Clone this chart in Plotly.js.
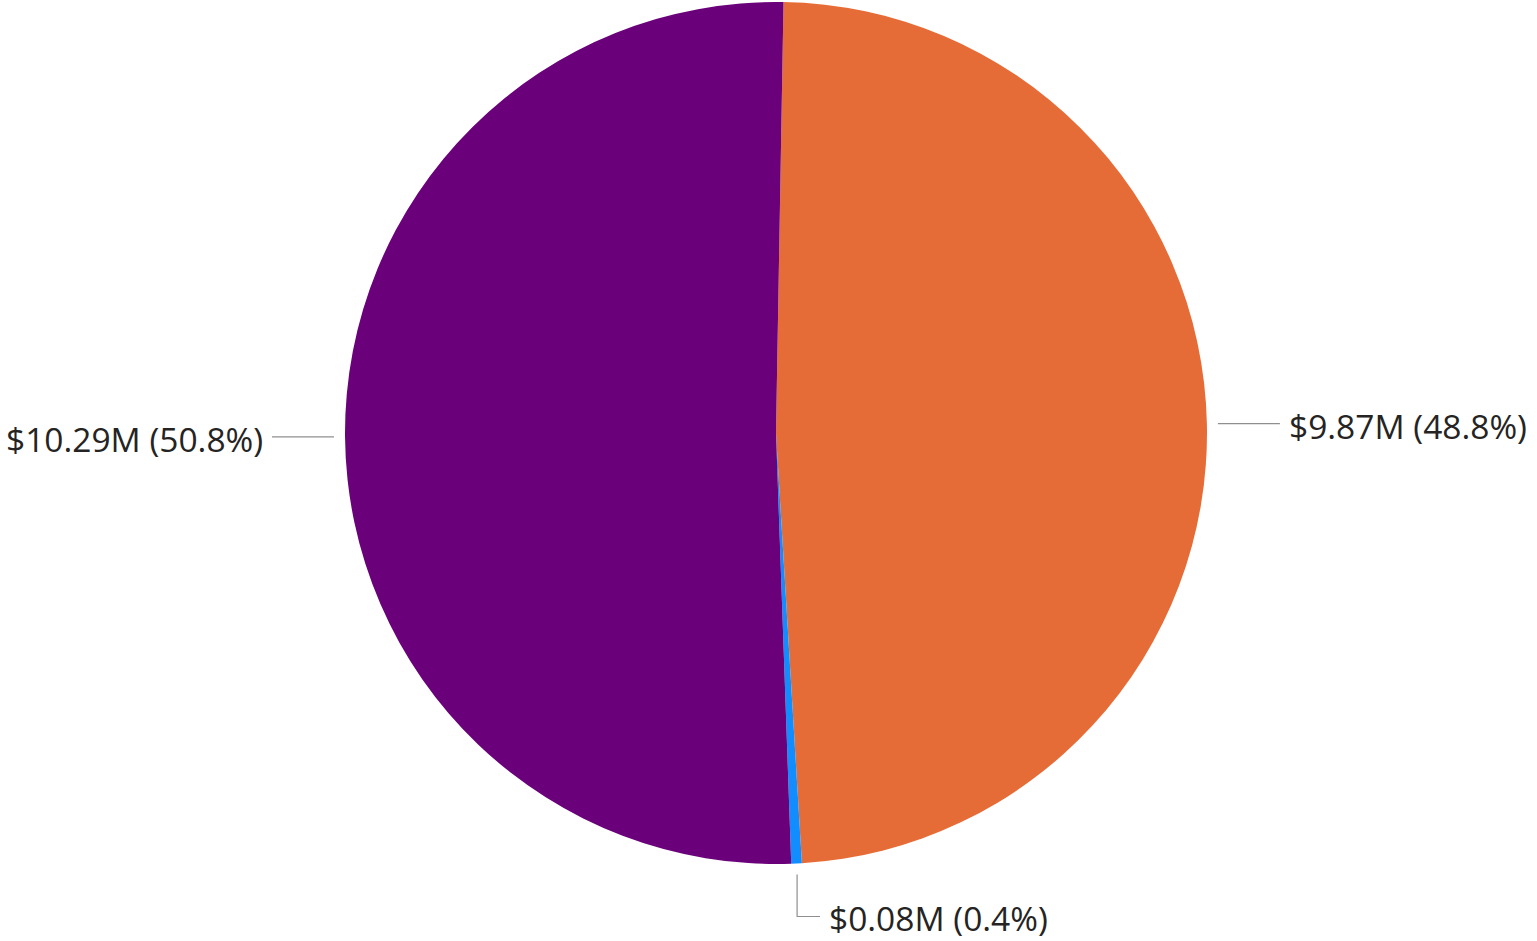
<!DOCTYPE html>
<html>
<head>
<meta charset="utf-8">
<script src="https://cdn.plot.ly/plotly-3.0.1.min.js"></script>
<style>html,body{margin:0;padding:0;background:#fff;}#chart{width:1537px;height:941px;}</style>
</head>
<body>
<div id="chart"></div>
<script>
// ---- data ----
const categories = ['Segment A', 'Segment B', 'Segment C'];
const values = [9.87, 0.08, 10.29];           // $ millions
const colors = ['#E66C37', '#118DFF', '#6B007B'];

// ---- geometry / style ----
const W = 1537, H = 941;
const cx = 776, cy = 433, R = 431;
const rotationDeg = 1;
const labelFont = {family: 'Segoe UI, Open Sans, Noto Sans, sans-serif', size: 33.5, color: '#252423'};
const leaderColor = '#8f8f8f';

const total = values.reduce((a, b) => a + b, 0);
const fmtLabel = v => '$' + v.toFixed(2) + 'M (' + (v / total * 100).toFixed(1) + '%)';

const px = x => x / W;
const py = y => 1 - y / H;

const annotations = [];
const shapes = [];
let acc = rotationDeg;
values.forEach((v, i) => {
  const span = v / total * 360;
  const mid = (acc + span / 2) * Math.PI / 180;
  acc += span;
  const r0 = R + 11;
  const x0 = cx + r0 * Math.sin(mid);
  const y0 = cy - r0 * Math.cos(mid);
  let path, tx, ty, anchor;
  if (Math.abs(Math.sin(mid)) < 0.3) {
    // near top/bottom: elbow leader
    const dy = Math.cos(mid) < 0 ? 42 : -42;
    const y1 = y0 + dy;
    const x2 = x0 + 23;
    path = `M ${px(x0)} ${py(y0)} L ${px(x0)} ${py(y1)} L ${px(x2)} ${py(y1)}`;
    tx = x2 + 7; ty = y1 + 2; anchor = 'left';
  } else {
    const dir = Math.sin(mid) > 0 ? 1 : -1;
    const x1 = x0 + dir * 62;
    path = `M ${px(x0)} ${py(y0)} L ${px(x1)} ${py(y0)}`;
    tx = x1 + dir * 7; ty = y0 + 2; anchor = dir > 0 ? 'left' : 'right';
  }
  shapes.push({type: 'path', xref: 'paper', yref: 'paper', path: path,
               line: {color: leaderColor, width: 1.2}});
  annotations.push({xref: 'paper', yref: 'paper', x: px(tx), y: py(ty),
                    xanchor: anchor, yanchor: 'middle', showarrow: false,
                    text: fmtLabel(v), font: labelFont});
});

const trace = {
  type: 'pie',
  labels: categories,
  values: values,
  sort: false,
  direction: 'clockwise',
  rotation: rotationDeg,
  marker: {colors: colors, line: {width: 0}},
  textinfo: 'none',
  hoverinfo: 'label+value+percent',
  domain: {x: [(cx - R) / W, (cx + R) / W], y: [1 - (cy + R) / H, 1 - (cy - R) / H]}
};

const layout = {
  width: W, height: H,
  margin: {l: 0, r: 0, t: 0, b: 0},
  paper_bgcolor: '#ffffff',
  showlegend: false,
  annotations: annotations,
  shapes: shapes
};

Plotly.newPlot('chart', [trace], layout, {displayModeBar: false, staticPlot: true});
</script>
</body>
</html>
